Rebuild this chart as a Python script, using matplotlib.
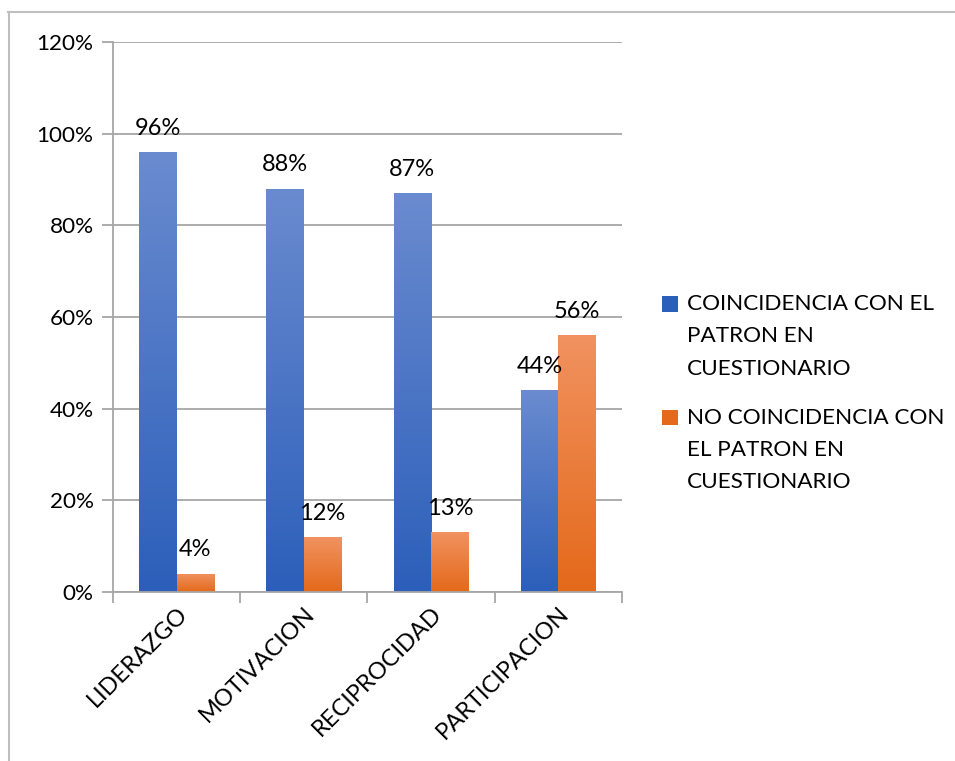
import matplotlib
matplotlib.use("Agg")
import matplotlib.pyplot as plt
import numpy as np
from matplotlib.colors import LinearSegmentedColormap
from matplotlib.patches import Rectangle
from matplotlib.container import BarContainer
from matplotlib.legend_handler import HandlerPatch
from matplotlib.ticker import FixedLocator, PercentFormatter

categories = ["LIDERAZGO", "MOTIVACION", "RECIPROCIDAD", "PARTICIPACION"]
coincidencia = [96, 88, 87, 44]
no_coincidencia = [4, 12, 13, 56]
series_labels = ["COINCIDENCIA CON EL\nPATRON EN\nCUESTIONARIO",
                 "NO COINCIDENCIA CON\nEL PATRON EN\nCUESTIONARIO"]
y_ticks = [0, 20, 40, 60, 80, 100, 120]

FONT = "Lato"
plt.rcParams["font.family"] = [FONT, "DejaVu Sans"]
FS = 16.2

blue_top, blue_bot = "#6A8BCF", "#2C5FBA"
orange_top, orange_bot = "#F19260", "#E4691A"

fig = plt.figure(figsize=(9.55, 7.61), dpi=100)
ax = fig.add_axes([0.1183, 0.2221, 0.5330, 0.7227])

x = np.arange(len(categories))
w = 0.295
b1 = ax.bar(x - w / 2, coincidencia, w, color=blue_bot, label=series_labels[0], zorder=2)
b2 = ax.bar(x + w / 2, no_coincidencia, w, color=orange_bot, label=series_labels[1], zorder=2)

grad = np.linspace(0, 1, 256).reshape(-1, 1)
for bars, top, bot in [(b1, blue_top, blue_bot), (b2, orange_top, orange_bot)]:
    cmap = LinearSegmentedColormap.from_list("g", [bot, top])
    for r in bars:
        x0, h, ww = r.get_x(), r.get_height(), r.get_width()
        im = ax.imshow(grad, extent=[x0, x0 + ww, 0, h], origin="lower", aspect="auto",
                       cmap=cmap, zorder=2.5, interpolation="bicubic")
        im.set_clip_path(r)

for bars, vals in [(b1, coincidencia), (b2, no_coincidencia)]:
    for r, v in zip(bars, vals):
        ax.annotate(f"{v}%", (r.get_x() + r.get_width() / 2, r.get_height()),
                    xytext=(0, 9.5), textcoords="offset points", ha="center", va="bottom",
                    fontsize=17, color="#000000", zorder=4)

ax.set_xlim(-0.5, len(categories) - 0.5)
ax.set_ylim(0, 120)
ax.set_aspect("auto")
ax.yaxis.set_major_locator(FixedLocator(y_ticks))
ax.yaxis.set_major_formatter(PercentFormatter(decimals=0))
ax.grid(axis="y", color="#A6A6A6", linewidth=1.3, zorder=0)
ax.set_axisbelow(True)

ax.set_xticks(np.arange(-0.5, len(categories), 1.0))
ax.set_xticklabels([])
ax.set_xticks(x, minor=True)
ax.set_xticklabels(categories, minor=True, rotation=45, ha="right", va="top",
                   rotation_mode="anchor", fontsize=17)
ax.tick_params(axis="x", which="minor", length=0, pad=8)
ax.tick_params(axis="x", which="major", length=8, color="#A6A6A6", width=1.3)
ax.tick_params(axis="y", length=8, color="#A6A6A6", width=1.3, labelsize=FS, pad=6)

for s in ["top", "right"]:
    ax.spines[s].set_visible(False)
for s in ["left", "bottom"]:
    ax.spines[s].set_color("#A6A6A6")
    ax.spines[s].set_linewidth(1.3)


def top_square(legend, orig_handle, xdescent, ydescent, width, height, fontsize):
    # square aligned with the first line of a three-line label
    return Rectangle((-xdescent, -ydescent + 1.45 * fontsize), width, height)


def from_first(legend_handle, orig_handle):
    legend_handle.set_facecolor(orig_handle[0].get_facecolor())
    legend_handle.set_edgecolor("none")


leg = fig.legend(handles=[b1, b2], loc="upper left", bbox_to_anchor=(0.6725, 0.640),
                 frameon=False, fontsize=FS, handlelength=0.68, handleheight=0.68,
                 handletextpad=0.4, labelspacing=1.3,
                 handler_map={BarContainer: HandlerPatch(patch_func=top_square,
                                                         update_func=from_first)})
for t in leg.get_texts():
    t.set_linespacing(1.76)

# outer chart border (top and left visible)
fig.add_artist(plt.Line2D([0.008, 1.0], [0.984, 0.984], color="#BFBFBF", linewidth=1.5,
                          transform=fig.transFigure))
fig.add_artist(plt.Line2D([0.009, 0.009], [0.0, 0.984], color="#BFBFBF", linewidth=1.5,
                          transform=fig.transFigure))

fig.savefig("out.png", dpi=100)
